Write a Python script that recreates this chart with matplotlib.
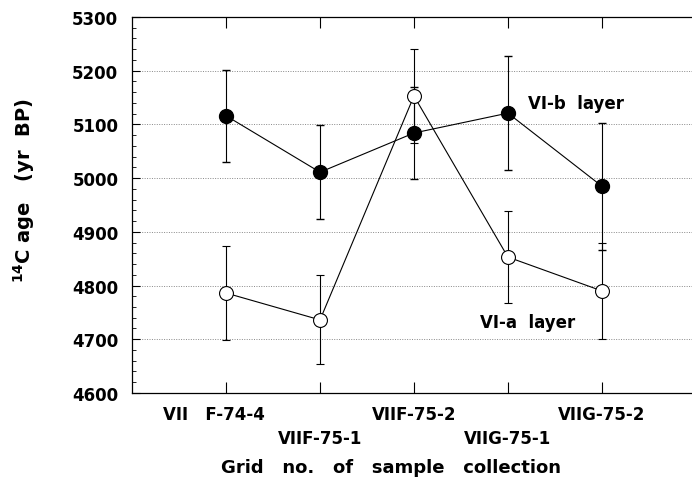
import matplotlib.pyplot as plt
from matplotlib.ticker import MultipleLocator

plt.rcParams['font.family'] = ['DejaVu Sans']
plt.rcParams['font.weight'] = 'bold'
plt.rcParams['mathtext.default'] = 'bf'

# sample grid positions
grids = ['VII   F-74-4', 'VIIF-75-1', 'VIIF-75-2', 'VIIG-75-1', 'VIIG-75-2']
pos = [1, 2, 3, 4, 5]

# VI-b layer (filled)
age_b = [5116, 5011, 5084, 5121, 4985]
err_b = [86, 87, 85, 106, 118]

# VI-a layer (open)
age_a = [4786, 4736, 5153, 4853, 4790]
err_a = [87, 83, 88, 86, 90]

fig = plt.figure(figsize=(6.92, 4.81), dpi=100)
ax = fig.add_axes([0.191, 0.181, 0.809, 0.7816])

ax.errorbar(pos, age_b, yerr=err_b, fmt='o-', color='black', mfc='black',
            ms=10, lw=0.8, elinewidth=0.8, capsize=3, zorder=3)
ax.errorbar(pos, age_a, yerr=err_a, fmt='o-', color='black', mfc='white',
            ms=10, lw=0.8, elinewidth=0.8, capsize=3, mew=0.8, zorder=3)

ax.text(4.21, 5140, 'VI-b  layer', fontsize=12, fontweight='bold', va='center')
ax.text(3.7, 4732, 'VI-a  layer', fontsize=12, fontweight='bold', va='center')

ax.set_xlim(0, 5.96)
ax.set_ylim(4600, 5300)
ax.yaxis.set_major_locator(MultipleLocator(100))
ax.yaxis.set_minor_locator(MultipleLocator(20))
ax.set_xticks(pos)
ax.set_xticklabels([])
ax.tick_params(axis='y', which='both', direction='in', labelsize=12)
ax.tick_params(axis='y', which='major', length=6, pad=10)
ax.tick_params(axis='y', which='minor', length=3)
ax.tick_params(axis='x', direction='in', length=8, top=True)
for lab in ax.get_yticklabels():
    lab.set_fontweight('bold')

for i, (p, g) in enumerate(zip(pos, grids)):
    y = -0.056 if i % 2 == 0 else -0.12
    dx = -0.13 if i == 0 else 0
    ax.text(p + dx, y, g, transform=ax.get_xaxis_transform(), ha='center',
            va='center', fontsize=12, fontweight='bold')

ax.grid(axis='y', which='major', linestyle=(0, (1, 1.5)), color='#888888', lw=0.7)
ax.spines['right'].set_visible(False)
for s in ['left', 'bottom', 'top']:
    ax.spines[s].set_linewidth(0.9)

ax.set_xlabel('Grid   no.   of   sample   collection', fontsize=13, fontweight='bold', va='center')
ax.xaxis.set_label_coords((391 - 132) / 560, -0.197)
ax.set_ylabel('$^{14}$C age   (yr  BP)', fontsize=14, fontweight='bold')
ax.yaxis.set_label_coords(-0.17, 0.54)

fig.savefig('out.png', dpi=100)
